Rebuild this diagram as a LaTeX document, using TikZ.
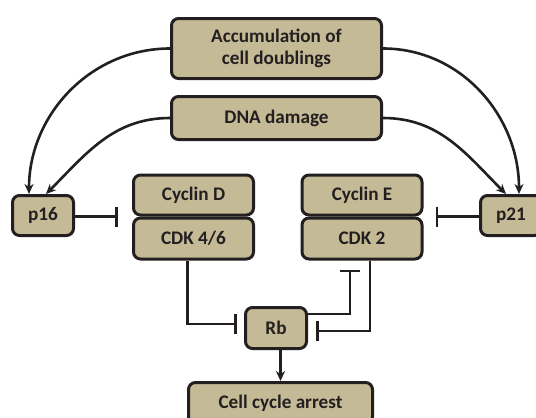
\documentclass[tikz,border=0pt]{standalone}
\usepackage{fontspec}
\setmainfont{Carlito}
\usepackage{tikz}
\usetikzlibrary{arrows.meta}
\definecolor{boxfill}{HTML}{C4BA96}
\definecolor{ink}{HTML}{231F20}

\begin{document}
\begin{tikzpicture}[x=1pt, y=-1pt,
  main/.style = {draw=ink, line width=3pt, rounded corners=7pt, fill=boxfill, text=ink,
    font=\fontsize{19.2}{21.7}\selectfont\bfseries, align=center, inner sep=0pt},
  act/.style = {draw=ink, line width=2.6pt, -{Stealth[length=10pt,width=9pt]}},
  inh/.style = {draw=ink, line width=2.6pt, -{Bar[width=20pt]}}]
\useasboundingbox (0,0) rectangle (536,418);
\clip (0,0) rectangle (536,418);
% boxes
\node[main, minimum width=210pt, minimum height=60pt] (acc) at (276.5,48.5) {Accumulation of\\cell doublings};
\node[main, minimum width=210pt, minimum height=43pt] (dna) at (276.5,118) {DNA damage};
\node[main, minimum width=61pt, minimum height=40pt] (p16) at (43,215.5) {p16};
\node[main, minimum width=61pt, minimum height=40pt] (p21) at (511,215.5) {p21};
\node[main, minimum width=120pt, minimum height=40pt] (cycd) at (193.5,195) {Cyclin D};
\node[main, minimum width=120pt, minimum height=41pt] (cdk46) at (193.5,238.5) {CDK 4/6};
\node[main, minimum width=120pt, minimum height=40pt] (cyce) at (362,195) {Cyclin E};
\node[main, minimum width=120pt, minimum height=41pt] (cdk2) at (362,238.5) {CDK 2};
\node[main, minimum width=61pt, minimum height=41pt] (rb) at (276,328) {Rb};
\node[main, minimum width=184pt, minimum height=41pt] (arrest) at (280.5,403) {Cell cycle arrest};
% signals to p16 / p21
\draw[act] (acc.west) to[out=180, in=90] ([xshift=-14pt]p16.north);
\draw[act] (dna.west) to[out=180, in=45] ([xshift=3pt]p16.north);
\draw[act] (acc.east) to[out=0, in=90] ([xshift=8pt]p21.north);
\draw[act] (dna.east) to[out=0, in=135] ([xshift=-5pt]p21.north);
% inhibitions
\draw[inh, shorten >=14pt] (p16.east |- cdk46.north) -- (cdk46.north west);
\draw[inh, shorten >=12pt] (p21.west |- cyce.south) -- (cyce.south east);
\draw[inh, shorten >=7pt] ([xshift=-6pt]cdk46.south) |- ([yshift=4pt]rb.west);
\draw[inh, shorten >=8pt] ([xshift=8pt]cdk2.south) |- ([yshift=-3pt]rb.east);
\draw[inh, shorten >=9pt] ([yshift=14pt]rb.east) -| ([xshift=-12pt]cdk2.south);
\draw[act] (rb.south -| arrest.north) -- (arrest.north);
\end{tikzpicture}
\end{document}
